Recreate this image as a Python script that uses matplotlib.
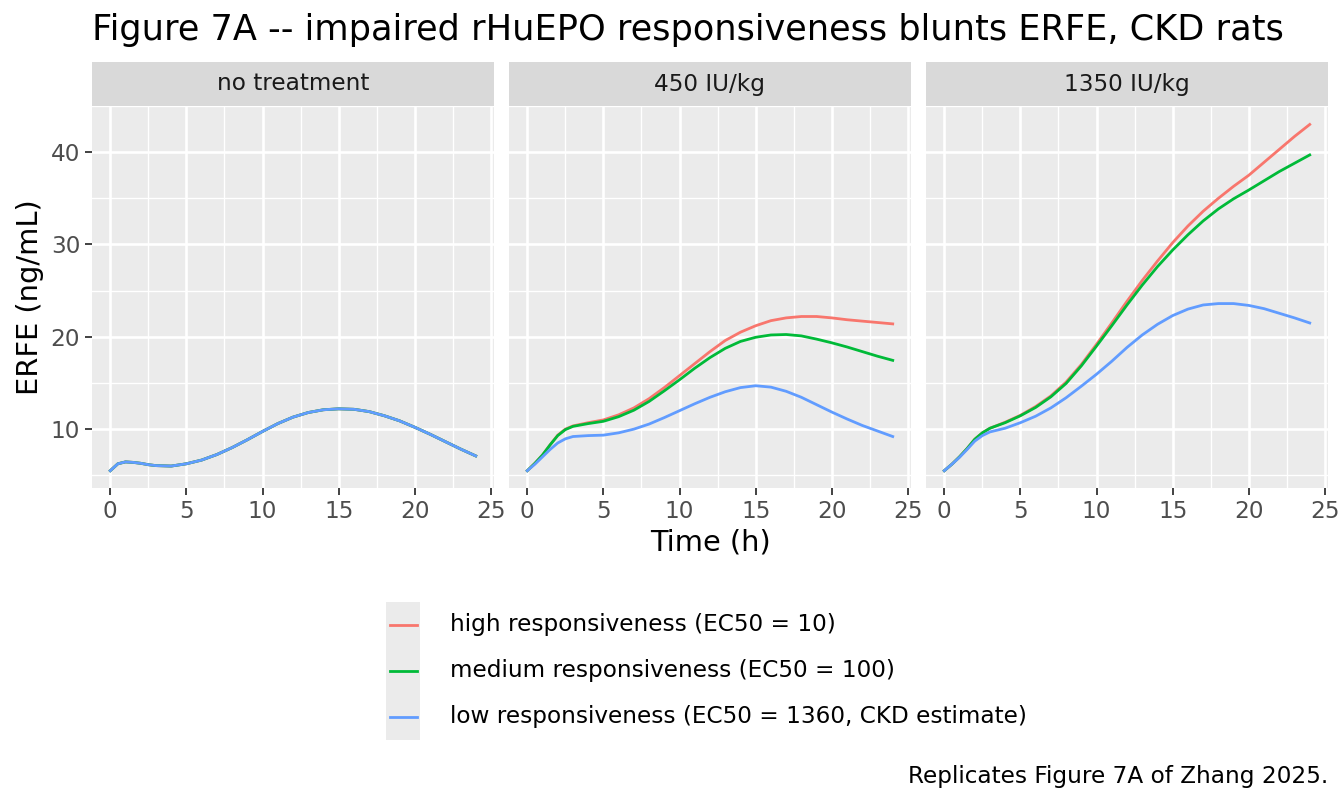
import matplotlib.pyplot as plt
import numpy as np

# time grid (h)
time_h = [0, 0.5, 1, 1.5, 2, 2.5, 3, 4, 5, 6, 7, 8, 9, 10, 11, 12,
          13, 14, 15, 16, 17, 18, 19, 20, 21, 22, 23, 24]

panels = ["no treatment", "450 IU/kg", "1350 IU/kg"]
series = ["high responsiveness (EC50 = 10)",
          "medium responsiveness (EC50 = 100)",
          "low responsiveness (EC50 = 1360, CKD estimate)"]
colors = ["#F8766D", "#00BA38", "#619CFF"]

# no treatment: all three responsiveness levels coincide
erfe_none = [5.5, 6.25, 6.45, 6.4, 6.3, 6.15, 6.05, 6.0, 6.25, 6.65, 7.25,
             8.0, 8.85, 9.75, 10.6, 11.3, 11.8, 12.1, 12.2, 12.15, 11.9,
             11.45, 10.9, 10.2, 9.45, 8.65, 7.85, 7.1]

high_450 = [5.5, 6.3, 7.2, 8.3, 9.35, 10.0, 10.35, 10.7, 11.0, 11.55, 12.3,
            13.3, 14.5, 15.8, 17.1, 18.4, 19.6, 20.5, 21.2, 21.75, 22.05,
            22.2, 22.2, 22.05, 21.85, 21.7, 21.55, 21.4]
med_450 = [5.5, 6.3, 7.2, 8.3, 9.3, 9.95, 10.3, 10.6, 10.85, 11.35, 12.05,
           13.0, 14.15, 15.35, 16.6, 17.75, 18.75, 19.5, 19.95, 20.2, 20.25,
           20.1, 19.75, 19.35, 18.9, 18.4, 17.9, 17.45]
low_450 = [5.5, 6.2, 7.0, 7.8, 8.5, 8.95, 9.2, 9.3, 9.35, 9.6, 10.0, 10.55,
           11.25, 12.0, 12.75, 13.45, 14.05, 14.5, 14.7, 14.55, 14.1, 13.45,
           12.65, 11.85, 11.1, 10.4, 9.8, 9.2]

high_1350 = [5.5, 6.2, 7.0, 7.9, 8.9, 9.6, 10.1, 10.75, 11.5, 12.45, 13.6,
             15.1, 17.0, 19.2, 21.5, 23.85, 26.1, 28.2, 30.2, 32.0, 33.6,
             35.0, 36.3, 37.5, 38.9, 40.3, 41.7, 43.0]
med_1350 = [5.5, 6.2, 7.0, 7.9, 8.9, 9.6, 10.1, 10.7, 11.45, 12.35, 13.5,
            14.95, 16.85, 19.0, 21.2, 23.45, 25.6, 27.6, 29.4, 31.05, 32.55,
            33.85, 34.95, 35.9, 36.9, 37.9, 38.8, 39.7]
low_1350 = [5.5, 6.2, 6.95, 7.8, 8.7, 9.3, 9.7, 10.1, 10.7, 11.4, 12.3,
            13.4, 14.65, 15.95, 17.35, 18.85, 20.2, 21.35, 22.3, 23.0, 23.45,
            23.6, 23.6, 23.4, 23.05, 22.55, 22.05, 21.5]

data = [[erfe_none, erfe_none, erfe_none],
        [high_450, med_450, low_450],
        [high_1350, med_1350, low_1350]]

W, H = 1344, 806
fig = plt.figure(figsize=(W / 100, H / 100), dpi=100)


def px_axes(l, t, r, b):
    return fig.add_axes([l / W, 1 - b / H, (r - l) / W, (b - t) / H])


# ggplot-like expansion of the shared scales
allv = np.concatenate([np.ravel(d) for d in data])
ylo, yhi = allv.min(), allv.max()
ypad = 0.05 * (yhi - ylo)
xpad = 0.05 * (max(time_h) - min(time_h))

lefts = [92, 509, 926]
pw = 402
top, bottom = 106, 488
fs = 16.7

for i, name in enumerate(panels):
    l = lefts[i]
    ax = px_axes(l, top, l + pw, bottom)
    ax.set_facecolor("#EBEBEB")
    for s in ax.spines.values():
        s.set_visible(False)
    ax.set_xlim(min(time_h) - xpad, max(time_h) + xpad)
    ax.set_ylim(ylo - ypad, yhi + ypad)
    ax.set_xticks([0, 5, 10, 15, 20, 25])
    ax.set_xticks([2.5, 7.5, 12.5, 17.5, 22.5], minor=True)
    ax.set_yticks([10, 20, 30, 40])
    ax.set_yticks([5, 15, 25, 35, 45], minor=True)
    ax.grid(which="major", color="white", lw=1.9)
    ax.grid(which="minor", color="white", lw=0.95)
    ax.set_axisbelow(True)
    ax.tick_params(which="major", length=5, width=1.3, color="#333333",
                   labelsize=fs, labelcolor="#4D4D4D", pad=3.5)
    ax.tick_params(which="minor", length=0)
    if i > 0:
        ax.tick_params(axis="y", which="major", length=0, labelleft=False)
    for vals, c in zip(data[i], colors):
        ax.plot(time_h, vals, color=c, lw=2.0, solid_joinstyle="round")

    sx = px_axes(l, 62, l + pw, 106)
    sx.set_facecolor("#D9D9D9")
    sx.set_xticks([])
    sx.set_yticks([])
    for s in sx.spines.values():
        s.set_visible(False)
    sx.text(0.5, 0.5, name, ha="center", va="center", fontsize=fs,
            color="#1A1A1A", transform=sx.transAxes)

fig.text(92 / W, 1 - 30 / H,
         "Figure 7A -- impaired rHuEPO responsiveness blunts ERFE, CKD rats",
         ha="left", va="center", fontsize=25.3)
fig.text(30 / W, 1 - 297 / H, "ERFE (ng/mL)", rotation=90,
         ha="center", va="center", fontsize=20.8)
fig.text(710 / W, 1 - 542 / H, "Time (h)", ha="center", va="center",
         fontsize=20.8)

# legend
lg = px_axes(386, 602, 433, 740)
lg.set_xlim(0, 1)
lg.set_ylim(0, 3)
lg.axis("off")
lg.add_patch(plt.Rectangle((0, 0), 0.73, 3, color="#EBEBEB", lw=0))
for k, (lab, c) in enumerate(zip(series, colors)):
    yk = 2.5 - k
    lg.plot([0.08, 0.66], [yk, yk], color=c, lw=2.0)
    fig.text(450 / W, 1 - (625 + 46 * k) / H, lab, ha="left", va="center",
             fontsize=fs)

fig.text(1328 / W, 1 - 777 / H, "Replicates Figure 7A of Zhang 2025.",
         ha="right", va="center", fontsize=fs)

fig.savefig("out.png", dpi=100)
